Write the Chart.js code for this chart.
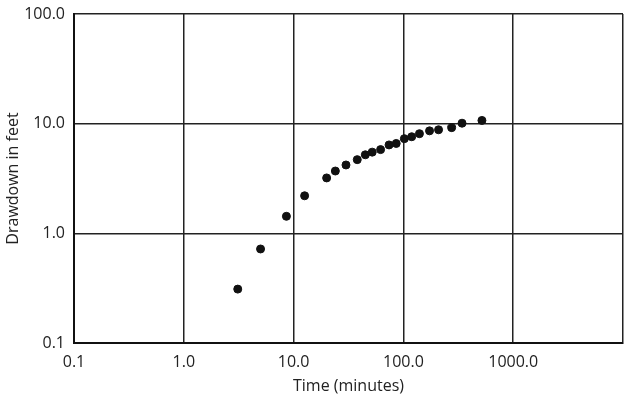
<!DOCTYPE html>
<html lang="en">
<head>
    <meta charset="UTF-8">
    <title>Drawdown vs Time</title>
    <script src="https://cdn.jsdelivr.net/npm/chart.js"></script>
    <style>
        body { margin: 0; background: #fff; }
        canvas { display: block; }
    </style>
</head>
<body>

<canvas id="drawdownChart" width="628" height="408"></canvas>

<script>
    // time since pumping started (minutes) and measured drawdown (feet)
    const timeMinutes = [3.1, 5.0, 8.6, 12.6, 20, 24, 30, 38, 45, 52, 62, 74, 86, 102, 119, 140, 173, 209, 275, 342, 519];
    const drawdownFeet = [0.31, 0.72, 1.43, 2.2, 3.2, 3.7, 4.2, 4.7, 5.2, 5.5, 5.8, 6.4, 6.6, 7.3, 7.6, 8.1, 8.6, 8.8, 9.2, 10.1, 10.7];

    const xTickValues = [0.1, 1, 10, 100, 1000, 10000];
    const xTickLabels = ['0.1', '1.0', '10.0', '100.0', '1000.0', ''];
    const yTickValues = [0.1, 1, 10, 100];
    const yTickLabels = ['0.1', '1.0', '10.0', '100.0'];

    const points = timeMinutes.map((t, i) => ({ x: t, y: drawdownFeet[i] }));
    const labelFont = { family: 'Open Sans', size: 16 };

    new Chart(document.getElementById('drawdownChart'), {
        type: 'scatter',
        data: {
            datasets: [{
                data: points,
                backgroundColor: '#111',
                borderColor: '#111',
                pointRadius: 4,
                pointHoverRadius: 4
            }]
        },
        options: {
            responsive: false,
            animation: false,
            devicePixelRatio: 1,
            layout: { padding: { top: 14, right: 4, left: 0, bottom: 0 } },
            plugins: { legend: { display: false }, tooltip: { enabled: false } },
            scales: {
                x: {
                    type: 'logarithmic',
                    min: 0.1,
                    max: 10000,
                    afterBuildTicks: s => { s.ticks = xTickValues.map(v => ({ value: v })); },
                    afterFit: s => { s.height = 65; s.paddingLeft = 0; s.paddingRight = 0; },
                    ticks: {
                        autoSkip: false,
                        maxRotation: 0,
                        padding: 10,
                        color: '#222',
                        font: labelFont,
                        callback: (v, i) => xTickLabels[i]
                    },
                    grid: { color: '#222', lineWidth: 1.5, drawTicks: false },
                    border: { color: '#111', width: 2 },
                    title: {
                        display: true,
                        text: 'Time (minutes)',
                        color: '#222',
                        font: labelFont,
                        padding: { top: 0, bottom: 12 }
                    }
                },
                y: {
                    type: 'logarithmic',
                    min: 0.1,
                    max: 100,
                    afterBuildTicks: s => { s.ticks = yTickValues.map(v => ({ value: v })); },
                    afterFit: s => { s.width = 74; s.paddingTop = 0; s.paddingBottom = 0; },
                    ticks: {
                        autoSkip: false,
                        padding: 9,
                        color: '#222',
                        font: labelFont,
                        callback: (v, i) => yTickLabels[i]
                    },
                    grid: { color: '#222', lineWidth: 1.5, drawTicks: false },
                    border: { color: '#111', width: 2 },
                    title: {
                        display: true,
                        text: 'Drawdown in feet',
                        color: '#222',
                        font: labelFont,
                        padding: { top: 4, bottom: 0 }
                    }
                }
            }
        }
    });
</script>

</body>
</html>
